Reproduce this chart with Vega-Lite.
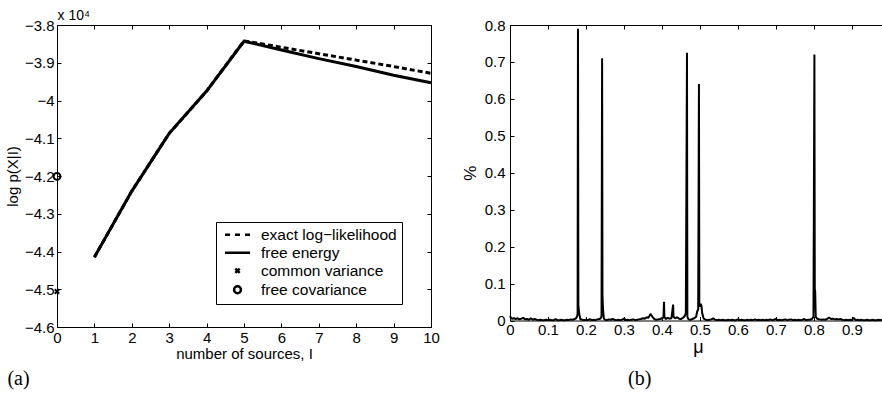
{
  "$schema": "https://vega.github.io/schema/vega-lite/v6.json",
  "background": "white",
  "padding": {"left": 5, "top": 8, "right": 0, "bottom": 3},
  "config": {
    "view": {"stroke": null},
    "font": "Liberation Sans",
    "concat": {"spacing": 21},
    "axis": {
      "grid": false,
      "domainColor": "black",
      "domainWidth": 1,
      "tickColor": "black",
      "tickWidth": 1,
      "tickSize": -4,
      "labelColor": "black",
      "labelFont": "Liberation Sans",
      "labelFontSize": 15,
      "labelFlush": false,
      "labelOverlap": false,
      "titleFont": "Liberation Sans",
      "titleFontSize": 15,
      "titleFontWeight": "normal",
      "titleColor": "black"
    },
    "title": {"font": "Liberation Serif", "fontSize": 20, "fontWeight": "normal", "color": "black"}
  },
  "hconcat": [
    {
      "width": 374,
      "height": 302,
      "title": {"text": "(a)", "orient": "bottom", "anchor": "start", "frame": "bounds", "offset": 8, "dx": 2},
      "data": {
        "values": [
          {"kind": "exact", "series": "exact log−likelihood", "I": 1, "logp": -44150},
          {"kind": "exact", "series": "exact log−likelihood", "I": 2, "logp": -42400},
          {"kind": "exact", "series": "exact log−likelihood", "I": 3, "logp": -40870},
          {"kind": "exact", "series": "exact log−likelihood", "I": 4, "logp": -39750},
          {"kind": "exact", "series": "exact log−likelihood", "I": 5, "logp": -38420},
          {"kind": "exact", "series": "exact log−likelihood", "I": 6, "logp": -38590},
          {"kind": "exact", "series": "exact log−likelihood", "I": 7, "logp": -38760},
          {"kind": "exact", "series": "exact log−likelihood", "I": 8, "logp": -38930},
          {"kind": "exact", "series": "exact log−likelihood", "I": 9, "logp": -39100},
          {"kind": "exact", "series": "exact log−likelihood", "I": 10, "logp": -39280},
          {"kind": "free", "series": "free energy", "I": 1, "logp": -44150},
          {"kind": "free", "series": "free energy", "I": 2, "logp": -42400},
          {"kind": "free", "series": "free energy", "I": 3, "logp": -40870},
          {"kind": "free", "series": "free energy", "I": 4, "logp": -39750},
          {"kind": "free", "series": "free energy", "I": 5, "logp": -38430},
          {"kind": "free", "series": "free energy", "I": 6, "logp": -38660},
          {"kind": "free", "series": "free energy", "I": 7, "logp": -38890},
          {"kind": "free", "series": "free energy", "I": 8, "logp": -39100},
          {"kind": "free", "series": "free energy", "I": 9, "logp": -39330},
          {"kind": "free", "series": "free energy", "I": 10, "logp": -39530},
          {"kind": "marker", "series": "common variance", "I": 0, "logp": -45060},
          {"kind": "marker", "series": "free covariance", "I": 0, "logp": -42010}
        ]
      },
      "layer": [
        {
          "transform": [{"filter": {"field": "kind", "equal": "exact"}}],
          "mark": {"type": "line", "color": "black", "strokeWidth": 3, "strokeDash": [5, 3]},
          "encoding": {
            "x": {"field": "I", "type": "quantitative", "scale": {"domain": [0, 10], "nice": false},
              "axis": {"orient": "bottom", "values": [0,1,2,3,4,5,6,7,8,9,10], "format": "d", "labelPadding": 7, "title": "number of sources, I", "titlePadding": 1}},
            "y": {"field": "logp", "type": "quantitative", "scale": {"domain": [-46000, -38000], "nice": false, "zero": false},
              "axis": {"orient": "left", "values": [-46000,-45000,-44000,-43000,-42000,-41000,-40000,-39000,-38000], "labelExpr": "format(datum.value/10000, '~g')", "labelPadding": 7, "title": "log p(X|I)", "titlePadding": 4}}
          }
        },
        {
          "transform": [{"filter": {"field": "kind", "equal": "free"}}],
          "mark": {"type": "line", "color": "black", "strokeWidth": 3},
          "encoding": {
            "x": {"field": "I", "type": "quantitative", "axis": null},
            "y": {"field": "logp", "type": "quantitative", "axis": null}
          }
        },
        {
          "transform": [{"filter": {"field": "kind", "equal": "marker"}}],
          "mark": {"type": "point", "filled": false, "color": "black", "opacity": 1, "strokeWidth": 2, "size": 156},
          "encoding": {
            "x": {"field": "I", "type": "quantitative", "axis": null},
            "y": {"field": "logp", "type": "quantitative", "axis": null},
            "shape": {
              "field": "series", "type": "nominal",
              "scale": {
                "domain": ["exact log−likelihood", "free energy", "common variance", "free covariance"],
                "range": ["M-2,0H-1.2M-0.4,0H0.4M1.2,0H2", "M-2,0H2", "M-0.35,-0.35L0.35,0.35M-0.35,0.35L0.35,-0.35", "M0.55,0A0.55,0.55,0,1,1,-0.55,0A0.55,0.55,0,1,1,0.55,0Z"]
              },
              "legend": {
                "orient": "none", "legendX": 159, "legendY": 197, "title": null,
                "labelFont": "Liberation Sans", "labelFontSize": 15.5, "labelColor": "black",
                "symbolSize": 156, "symbolStrokeWidth": 2.5, "symbolStrokeColor": "black", "symbolFillColor": "transparent", "symbolOpacity": 1,
                "strokeColor": "black", "fillColor": "white", "padding": 5, "rowPadding": 1,
                "symbolOffset": 8.75, "labelOffset": 15.75
              }
            }
          }
        },
        {
          "transform": [{"filter": {"field": "kind", "equal": "free"}}],
          "mark": {"type": "line", "opacity": 0},
          "encoding": {
            "x": {"field": "I", "type": "quantitative",
              "axis": {"orient": "top", "values": [0,1,2,3,4,5,6,7,8,9,10], "labels": false, "title": "x 10⁴", "titleFontSize": 14, "titleAnchor": "start", "titleAlign": "left", "titlePadding": 2}},
            "y": {"field": "logp", "type": "quantitative",
              "axis": {"orient": "right", "values": [-46000,-45000,-44000,-43000,-42000,-41000,-40000,-39000,-38000], "labels": false, "title": null}}
          }
        }
      ],
      "resolve": {"axis": {"x": "independent", "y": "independent"}}
    },
    {
      "width": 376,
      "height": 295.5,
      "title": {"text": "(b)", "orient": "bottom", "anchor": "start", "frame": "group", "offset": 12, "dx": 118},
      "data": {
        "values": [
          {"mu": 0, "p": 0.012}, {"mu": 0.002, "p": 0.008}, {"mu": 0.005, "p": 0.005}, {"mu": 0.01, "p": 0.006},
          {"mu": 0.015, "p": 0.004}, {"mu": 0.02, "p": 0.006}, {"mu": 0.025, "p": 0.003}, {"mu": 0.03, "p": 0.005},
          {"mu": 0.035, "p": 0.007}, {"mu": 0.04, "p": 0.003}, {"mu": 0.045, "p": 0.004}, {"mu": 0.05, "p": 0.002},
          {"mu": 0.055, "p": 0.006}, {"mu": 0.06, "p": 0.002}, {"mu": 0.065, "p": 0.004}, {"mu": 0.07, "p": 0.002},
          {"mu": 0.075, "p": 0.001}, {"mu": 0.08, "p": 0.002}, {"mu": 0.085, "p": 0.001}, {"mu": 0.09, "p": 0.001},
          {"mu": 0.095, "p": 0.002}, {"mu": 0.1, "p": 0.001}, {"mu": 0.105, "p": 0.002}, {"mu": 0.11, "p": 0.001},
          {"mu": 0.115, "p": 0.001}, {"mu": 0.12, "p": 0.004}, {"mu": 0.125, "p": 0.001}, {"mu": 0.13, "p": 0.001},
          {"mu": 0.135, "p": 0.002}, {"mu": 0.14, "p": 0.001}, {"mu": 0.145, "p": 0.001}, {"mu": 0.15, "p": 0.002},
          {"mu": 0.155, "p": 0.001}, {"mu": 0.16, "p": 0.003}, {"mu": 0.165, "p": 0.002}, {"mu": 0.17, "p": 0.004},
          {"mu": 0.174, "p": 0.006}, {"mu": 0.177, "p": 0.012}, {"mu": 0.178, "p": 0.02}, {"mu": 0.179, "p": 0.79},
          {"mu": 0.18, "p": 0.042}, {"mu": 0.182, "p": 0.02}, {"mu": 0.185, "p": 0.004}, {"mu": 0.19, "p": 0.002},
          {"mu": 0.195, "p": 0.001}, {"mu": 0.2, "p": 0.002}, {"mu": 0.205, "p": 0.001}, {"mu": 0.21, "p": 0.004},
          {"mu": 0.215, "p": 0.001}, {"mu": 0.22, "p": 0.002}, {"mu": 0.225, "p": 0.001}, {"mu": 0.23, "p": 0.003},
          {"mu": 0.235, "p": 0.004}, {"mu": 0.239, "p": 0.006}, {"mu": 0.241, "p": 0.012}, {"mu": 0.2425, "p": 0.71},
          {"mu": 0.2435, "p": 0.067}, {"mu": 0.245, "p": 0.03}, {"mu": 0.247, "p": 0.006}, {"mu": 0.25, "p": 0.002},
          {"mu": 0.255, "p": 0.001}, {"mu": 0.26, "p": 0.003}, {"mu": 0.265, "p": 0.002}, {"mu": 0.27, "p": 0.004},
          {"mu": 0.275, "p": 0.002}, {"mu": 0.28, "p": 0.001}, {"mu": 0.285, "p": 0.002}, {"mu": 0.29, "p": 0.001},
          {"mu": 0.295, "p": 0.002}, {"mu": 0.3, "p": 0.005}, {"mu": 0.305, "p": 0.001}, {"mu": 0.31, "p": 0.002},
          {"mu": 0.315, "p": 0.001}, {"mu": 0.32, "p": 0.002}, {"mu": 0.325, "p": 0.003}, {"mu": 0.33, "p": 0.001},
          {"mu": 0.335, "p": 0.002}, {"mu": 0.34, "p": 0.003}, {"mu": 0.345, "p": 0.004}, {"mu": 0.35, "p": 0.006},
          {"mu": 0.355, "p": 0.005}, {"mu": 0.36, "p": 0.009}, {"mu": 0.364, "p": 0.007}, {"mu": 0.367, "p": 0.012},
          {"mu": 0.37, "p": 0.018}, {"mu": 0.372, "p": 0.015}, {"mu": 0.375, "p": 0.01}, {"mu": 0.38, "p": 0.004},
          {"mu": 0.385, "p": 0.002}, {"mu": 0.39, "p": 0.003}, {"mu": 0.395, "p": 0.004}, {"mu": 0.4, "p": 0.006},
          {"mu": 0.404, "p": 0.008}, {"mu": 0.4055, "p": 0.051}, {"mu": 0.4065, "p": 0.01}, {"mu": 0.41, "p": 0.004},
          {"mu": 0.415, "p": 0.007}, {"mu": 0.42, "p": 0.005}, {"mu": 0.425, "p": 0.006}, {"mu": 0.4295, "p": 0.043},
          {"mu": 0.4305, "p": 0.01}, {"mu": 0.435, "p": 0.006}, {"mu": 0.44, "p": 0.009}, {"mu": 0.445, "p": 0.005},
          {"mu": 0.45, "p": 0.004}, {"mu": 0.455, "p": 0.007}, {"mu": 0.46, "p": 0.012}, {"mu": 0.463, "p": 0.02},
          {"mu": 0.466, "p": 0.725}, {"mu": 0.467, "p": 0.01}, {"mu": 0.47, "p": 0.003}, {"mu": 0.475, "p": 0.002},
          {"mu": 0.48, "p": 0.004}, {"mu": 0.485, "p": 0.006}, {"mu": 0.49, "p": 0.01}, {"mu": 0.493, "p": 0.025},
          {"mu": 0.4955, "p": 0.03}, {"mu": 0.4975, "p": 0.64}, {"mu": 0.4985, "p": 0.04}, {"mu": 0.5, "p": 0.038},
          {"mu": 0.502, "p": 0.045}, {"mu": 0.504, "p": 0.04}, {"mu": 0.506, "p": 0.02}, {"mu": 0.51, "p": 0.005},
          {"mu": 0.515, "p": 0.002}, {"mu": 0.52, "p": 0.001}, {"mu": 0.525, "p": 0.002}, {"mu": 0.53, "p": 0.003},
          {"mu": 0.535, "p": 0.006}, {"mu": 0.54, "p": 0.002}, {"mu": 0.545, "p": 0.001}, {"mu": 0.55, "p": 0.002},
          {"mu": 0.555, "p": 0.001}, {"mu": 0.56, "p": 0.002}, {"mu": 0.565, "p": 0.001}, {"mu": 0.57, "p": 0.001},
          {"mu": 0.575, "p": 0.002}, {"mu": 0.58, "p": 0.001}, {"mu": 0.585, "p": 0.002}, {"mu": 0.59, "p": 0.001},
          {"mu": 0.595, "p": 0.001}, {"mu": 0.6, "p": 0.003}, {"mu": 0.605, "p": 0.001}, {"mu": 0.61, "p": 0.002},
          {"mu": 0.615, "p": 0.001}, {"mu": 0.62, "p": 0.001}, {"mu": 0.625, "p": 0.002}, {"mu": 0.63, "p": 0.001},
          {"mu": 0.635, "p": 0.002}, {"mu": 0.64, "p": 0.001}, {"mu": 0.645, "p": 0.003}, {"mu": 0.65, "p": 0.001},
          {"mu": 0.655, "p": 0.002}, {"mu": 0.66, "p": 0.001}, {"mu": 0.665, "p": 0.002}, {"mu": 0.67, "p": 0.001},
          {"mu": 0.675, "p": 0.002}, {"mu": 0.68, "p": 0.001}, {"mu": 0.685, "p": 0.003}, {"mu": 0.69, "p": 0.001},
          {"mu": 0.695, "p": 0.002}, {"mu": 0.7, "p": 0.004}, {"mu": 0.705, "p": 0.001}, {"mu": 0.71, "p": 0.002},
          {"mu": 0.715, "p": 0.001}, {"mu": 0.72, "p": 0.002}, {"mu": 0.725, "p": 0.003}, {"mu": 0.73, "p": 0.001},
          {"mu": 0.735, "p": 0.002}, {"mu": 0.74, "p": 0.003}, {"mu": 0.745, "p": 0.001}, {"mu": 0.75, "p": 0.002},
          {"mu": 0.755, "p": 0.001}, {"mu": 0.76, "p": 0.002}, {"mu": 0.765, "p": 0.001}, {"mu": 0.77, "p": 0.002},
          {"mu": 0.775, "p": 0.004}, {"mu": 0.78, "p": 0.001}, {"mu": 0.785, "p": 0.002}, {"mu": 0.79, "p": 0.002},
          {"mu": 0.795, "p": 0.004}, {"mu": 0.799, "p": 0.01}, {"mu": 0.8015, "p": 0.72}, {"mu": 0.8025, "p": 0.085},
          {"mu": 0.8035, "p": 0.08}, {"mu": 0.805, "p": 0.01}, {"mu": 0.81, "p": 0.004}, {"mu": 0.815, "p": 0.003},
          {"mu": 0.82, "p": 0.002}, {"mu": 0.825, "p": 0.003}, {"mu": 0.83, "p": 0.002}, {"mu": 0.835, "p": 0.004},
          {"mu": 0.84, "p": 0.008}, {"mu": 0.845, "p": 0.004}, {"mu": 0.85, "p": 0.005}, {"mu": 0.855, "p": 0.003},
          {"mu": 0.86, "p": 0.004}, {"mu": 0.865, "p": 0.003}, {"mu": 0.87, "p": 0.004}, {"mu": 0.875, "p": 0.002},
          {"mu": 0.88, "p": 0.001}, {"mu": 0.885, "p": 0.002}, {"mu": 0.89, "p": 0.001}, {"mu": 0.895, "p": 0.002},
          {"mu": 0.9, "p": 0.001}, {"mu": 0.905, "p": 0.007}, {"mu": 0.91, "p": 0.001}, {"mu": 0.915, "p": 0.002},
          {"mu": 0.92, "p": 0.001}, {"mu": 0.925, "p": 0.002}, {"mu": 0.93, "p": 0.001}, {"mu": 0.935, "p": 0.001},
          {"mu": 0.94, "p": 0.002}, {"mu": 0.945, "p": 0.001}, {"mu": 0.95, "p": 0.001}, {"mu": 0.955, "p": 0.002},
          {"mu": 0.96, "p": 0.001}, {"mu": 0.965, "p": 0.001}, {"mu": 0.97, "p": 0.002}, {"mu": 0.975, "p": 0.001},
          {"mu": 0.98, "p": 0.002}, {"mu": 0.985, "p": 0.001}, {"mu": 0.99, "p": 0.002}
        ]
      },
      "layer": [
        {
          "mark": {"type": "line", "color": "black", "strokeWidth": 2, "strokeJoin": "bevel"},
          "encoding": {
            "x": {"field": "mu", "type": "quantitative", "scale": {"domain": [0, 0.99], "nice": false},
              "axis": {"orient": "bottom", "values": [0,0.1,0.2,0.3,0.4,0.5,0.6,0.7,0.8,0.9], "format": "~g", "labelPadding": 6, "title": "μ", "titleFontSize": 18, "titlePadding": 1}},
            "y": {"field": "p", "type": "quantitative", "scale": {"domain": [0, 0.8], "nice": false},
              "axis": {"orient": "left", "values": [0,0.1,0.2,0.3,0.4,0.5,0.6,0.7,0.8], "format": "~g", "labelPadding": 9, "title": "%", "titleFontSize": 17, "titlePadding": 5}}
          }
        },
        {
          "mark": {"type": "line", "opacity": 0},
          "encoding": {
            "x": {"field": "mu", "type": "quantitative",
              "axis": {"orient": "top", "values": [0,0.1,0.2,0.3,0.4,0.5,0.6,0.7,0.8,0.9], "labels": false, "title": null}},
            "y": {"field": "p", "type": "quantitative", "axis": null}
          }
        }
      ],
      "resolve": {"axis": {"x": "independent", "y": "independent"}}
    }
  ]
}
